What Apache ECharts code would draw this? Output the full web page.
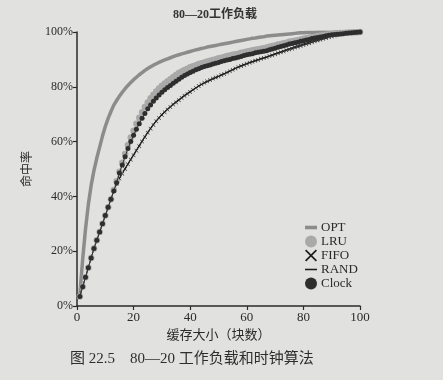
<!DOCTYPE html>
<html>
<head>
<meta charset="utf-8">
<script src="https://cdn.jsdelivr.net/npm/echarts@6/dist/echarts.min.js"></script>
<style>
html,body{margin:0;padding:0;background:#e1e1df;}
#c{width:443px;height:380px;}
</style>
</head>
<body>
<div id="c"></div>
<script>
var cacheSizes = [1,2,3,4,5,6,7,8,9,10,11,12,13,14,15,16,17,18,19,20,21,22,23,24,25,26,27,28,29,30,31,32,33,34,35,36,37,38,39,40,41,42,43,44,45,46,47,48,49,50,51,52,53,54,55,56,57,58,59,60,61,62,63,64,65,66,67,68,69,70,71,72,73,74,75,76,77,78,79,80,81,82,83,84,85,86,87,88,89,90,91,92,93,94,95,96,97,98,99,100];

var optHit = [4,17,28,37,44,49.5,54,58,62,65.5,
  68.5,71,73.3,75,76.6,78,79.3,80.5,81.6,82.6,
  83.5,84.4,85.2,86,86.7,87.3,87.9,88.4,88.9,89.4,
  89.8,90.2,90.6,91,91.4,91.7,92,92.3,92.6,92.9,
  93.2,93.5,93.7,94,94.2,94.5,94.7,94.9,95.1,95.3,
  95.5,95.7,95.9,96.1,96.3,96.5,96.7,96.9,97.1,97.3,
  97.5,97.7,97.8,98,98.2,98.3,98.5,98.6,98.7,98.8,
  98.9,99,99.1,99.2,99.3,99.4,99.5,99.6,99.7,99.75,
  99.8,99.8,99.85,99.85,99.9,99.9,99.9,99.95,99.95,99.95,
  100,100,100,100,100,100,100,100,100,100];

var lruHit = [3.5,7,10.5,14,17.5,21,24,27,30,33,
  36,39,42.3,45.5,49,52.3,55.5,58.8,61.5,64,
  66.5,68.7,70.7,72.6,74.3,75.8,77.1,78.3,79.4,80.4,
  81.2,82,82.8,83.6,84.3,85,85.6,86.1,86.6,87.1,
  87.5,87.9,88.3,88.6,88.9,89.2,89.5,89.8,90.1,90.4,
  90.6,90.9,91.2,91.4,91.7,91.9,92.1,92.4,92.6,92.9,
  93.1,93.3,93.5,93.7,93.9,94.1,94.3,94.6,94.9,95.1,
  95.4,95.6,95.9,96.1,96.4,96.6,96.8,97,97.3,97.5,
  97.7,97.9,98.1,98.3,98.5,98.7,98.8,99,99.1,99.3,
  99.4,99.5,99.6,99.6,99.7,99.8,99.8,99.9,99.9,100];

var fifoHit = [3.5,7,10.5,14,17.5,21,24,27,30,33,
  36,39,42,44.5,46.5,48.3,50,51.7,53.4,55,
  56.7,58.3,60,61.6,63.2,64.7,66.1,67.4,68.6,69.7,
  70.7,71.7,72.6,73.5,74.3,75.1,75.9,76.7,77.4,78.1,
  78.9,79.6,80.3,80.9,81.5,82,82.5,83,83.4,83.8,
  84.3,84.7,85.2,85.7,86.2,86.7,87.2,87.6,88,88.4,
  88.8,89.1,89.5,89.8,90.2,90.5,90.8,91.2,91.5,91.9,
  92.2,92.6,92.9,93.3,93.6,93.9,94.3,94.6,94.9,95.3,
  95.6,95.9,96.3,96.6,96.9,97.2,97.5,97.8,98.1,98.4,
  98.6,98.9,99.1,99.3,99.4,99.6,99.7,99.8,99.9,100];

var randHit = [3.5,7,10.5,14,17.5,21,24,27,30,33,
  36,39,42,44.8,46.8,48.6,50.3,52,53.7,55.3,
  57,58.7,60.3,62,63.5,65,66.4,67.7,68.9,70,
  71,72,72.9,73.8,74.6,75.4,76.2,77,77.7,78.4,
  79,79.6,80.2,80.8,81.3,81.8,82.3,82.8,83.3,83.8,
  84.3,84.8,85.3,85.8,86.3,86.8,87.2,87.7,88.1,88.5,
  88.9,89.2,89.6,89.9,90.3,90.6,90.9,91.3,91.7,92.1,
  92.5,92.8,93.2,93.6,93.9,94.3,94.7,95,95.4,95.7,
  96,96.4,96.7,97,97.3,97.6,97.8,98.1,98.3,98.6,
  98.8,99,99.1,99.3,99.5,99.6,99.7,99.8,99.9,100];

var clockHit = [3.5,7,10.5,14,17.5,21,24,27,30,33,
  36,39,42,45,48.5,51.5,54.5,57.5,60,62.3,
  64.5,66.5,68.5,70.3,72,73.4,74.7,75.9,77,78,
  78.9,79.7,80.5,81.3,82,82.8,83.5,84.1,84.7,85.2,
  85.7,86.2,86.6,87,87.4,87.7,88,88.3,88.6,88.9,
  89.2,89.5,89.8,90,90.3,90.5,90.8,91.1,91.4,91.7,
  91.9,92.1,92.4,92.6,92.8,93,93.2,93.5,93.8,94.1,
  94.4,94.7,95,95.3,95.6,95.8,96.1,96.3,96.6,96.8,
  97.1,97.3,97.6,97.8,98,98.2,98.4,98.6,98.8,99,
  99.1,99.2,99.3,99.4,99.5,99.6,99.7,99.8,99.9,100];

var xTicks = [0,20,40,60,80,100];
var yTicks = [0,20,40,60,80,100];

function pairs(vals){ return cacheSizes.map(function(x,i){ return [x, vals[i]]; }); }

var serif = "'Liberation Serif','Noto Sans CJK SC',serif";
var ink = '#2a2a2a';
var xPath = 'path://M0,1L1,0L5,4L9,0L10,1L6,5L10,9L9,10L5,6L1,10L0,9L4,5Z';

var chart = echarts.init(document.getElementById('c'), null, {renderer:'canvas'});
chart.setOption({
  animation:false,
  backgroundColor:'#e1e1df',
  title:{
    text:'80—20工作负载', left:168, top:4,
    textStyle:{fontFamily:serif, fontSize:12, fontWeight:'bold', color:'#333'}
  },
  grid:{left:77, right:83, top:32, bottom:74, containLabel:false},
  xAxis:{
    type:'value', min:xTicks[0], max:xTicks[xTicks.length-1], interval:20,
    name:'缓存大小（块数）', nameLocation:'middle', nameGap:20,
    nameTextStyle:{fontFamily:serif, fontSize:13, color:ink},
    axisLine:{lineStyle:{color:ink, width:1.5}},
    axisTick:{show:true, length:4, lineStyle:{color:ink, width:1.2}},
    axisLabel:{fontFamily:serif, fontSize:13, color:ink, margin:5},
    splitLine:{show:false}
  },
  yAxis:{
    type:'value', min:yTicks[0], max:yTicks[yTicks.length-1], interval:20,
    name:'命中率', nameLocation:'middle', nameGap:40,
    nameTextStyle:{fontFamily:serif, fontSize:12, color:ink},
    axisLine:{show:true, lineStyle:{color:ink, width:1.5}},
    axisTick:{show:true, length:4, lineStyle:{color:ink, width:1.2}},
    axisLabel:{fontFamily:serif, fontSize:12, color:ink, margin:4, formatter:'{value}%'},
    splitLine:{show:false}
  },
  legend:{
    orient:'vertical', left:300, top:216, itemGap:1, itemWidth:12, itemHeight:12,
    textStyle:{fontFamily:serif, fontSize:13, color:ink, padding:[0,0,0,-1]},
    data:[
      {name:'OPT', icon:'path://M0,4L10,4L10,7L0,7Z'},
      {name:'LRU', icon:'circle'},
      {name:'FIFO', icon:xPath},
      {name:'RAND', icon:'path://M0,5L10,5L10,6.3L0,6.3Z'},
      {name:'Clock', icon:'circle'}
    ]
  },
  graphic:[{
    type:'text', left:70, top:352,
    style:{text:'图 22.5    80—20 工作负载和时钟算法', font:"15px 'Liberation Serif','Noto Sans CJK SC',serif", fill:'#2e2e2e'}
  }],
  series:[
    {name:'OPT', type:'line', data:pairs(optHit), showSymbol:false, color:'#8c8c8c',
     lineStyle:{color:'#8c8c8c', width:3.5}, z:1},
    {name:'RAND', type:'line', data:pairs(randHit), showSymbol:false, color:'#1e1e1e',
     lineStyle:{color:'#1e1e1e', width:1}, z:2},
    {name:'FIFO', type:'line', data:pairs(fifoHit), showSymbol:true, showAllSymbol:true,
     symbol:xPath, symbolSize:4, color:'#1e1e1e',
     itemStyle:{color:'#1e1e1e'}, lineStyle:{color:'#1e1e1e', width:1}, z:3},
    {name:'LRU', type:'line', data:pairs(lruHit), showSymbol:true, showAllSymbol:true,
     symbol:'circle', symbolSize:6.5, color:'#a9a9a9',
     itemStyle:{color:'#a9a9a9'}, lineStyle:{color:'#a9a9a9', width:1}, z:4},
    {name:'Clock', type:'line', data:pairs(clockHit), showSymbol:true, showAllSymbol:true,
     symbol:'circle', symbolSize:5, color:'#2e2e2e',
     itemStyle:{color:'#2e2e2e'}, lineStyle:{color:'#2e2e2e', width:1}, z:5}
  ]
});
</script>
</body>
</html>
